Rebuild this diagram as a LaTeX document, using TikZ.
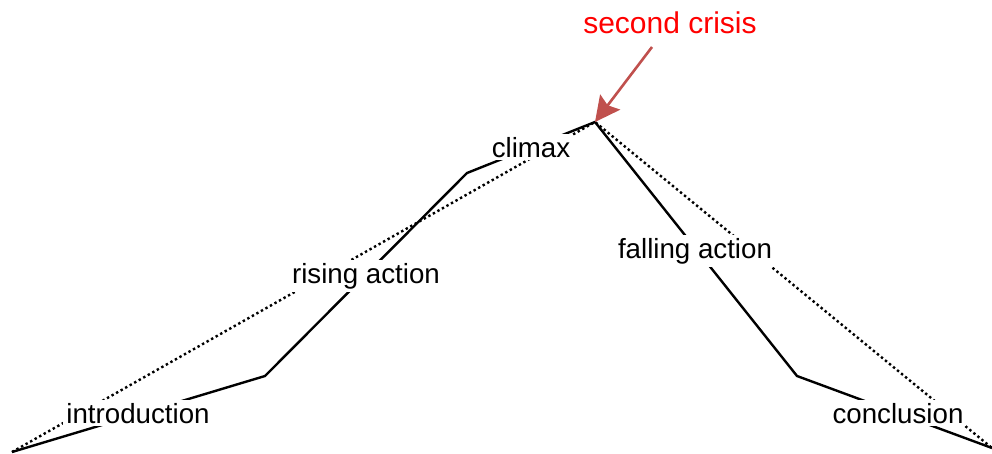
\documentclass[tikz,border=0pt]{standalone}
\usepackage{fontspec}
\setmainfont{Liberation Sans}
\usepackage{tikz}
\usetikzlibrary{
    positioning,
    arrows.meta
}
\definecolor{arrowRed}{RGB}{192, 80, 77}
\definecolor{labelRed}{RGB}{255, 0, 0}

\begin{document}
\begin{tikzpicture}[x=1pt, y=-1pt, >={Stealth[length=25pt, width=25pt, inset=4pt]}]
        \useasboundingbox (0,0) rectangle (992,453);
        \tikzset{
            stage/.style={fill=white, inner sep=3pt, anchor=base,
                font=\fontsize{27.7}{32}\selectfont},
            plotline/.style={line width=2.4pt, line join=miter},
            dotline/.style={line width=2.4pt, dash pattern=on 2.4pt off 2.8pt}
        }
        \coordinate (start) at (12,452);
        \coordinate (rise1) at (265,376);
        \coordinate (rise2) at (467,173);
        \coordinate (peak) at (595,122);
        \coordinate (fall1) at (797,376);
        \coordinate (end) at (992,448);
        \coordinate (tail) at (652,47);
        
        % Plot lines
        \draw[dotline] (start) -- (peak) -- (end);
        \draw[plotline] (start) -- (rise1) -- (rise2) -- (peak) -- (fall1) -- (end);
        
        % Labels
        \node[stage] (intro) at (138,423) {introduction};
        \node[stage] (rising) at (366,283) {rising action};
        \node[stage] (climax) at (531,157) {climax};
        \node[stage] (falling) at (695,258) {falling action};
        \node[stage] (concl) at (898,423) {conclusion};
        \node[stage, text=labelRed, font=\fontsize{30}{34}\selectfont] (crisis) at (670,33) {second crisis};
        
        \draw[->, arrowRed, line width=2.6pt] (tail) -- (peak);
    \end{tikzpicture}
\end{document}
